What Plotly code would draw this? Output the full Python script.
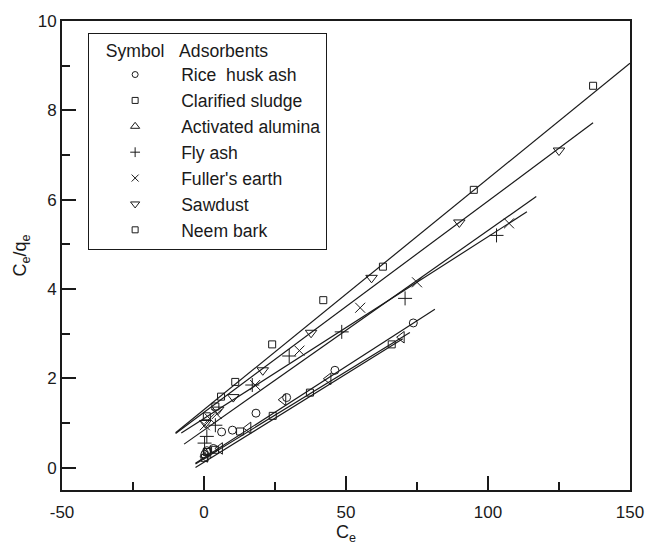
import plotly.graph_objects as go

# ---- data ----
rice_x = [0.3, 1.0, 3.3, 6.2, 10.0, 18.3, 29.1, 46.1, 73.7]
rice_y = [0.30, 0.38, 0.43, 0.80, 0.84, 1.22, 1.57, 2.18, 3.24]

sludge_x = [0.2, 1.0, 3.9, 12.7, 24.2, 37.3, 66.1]
sludge_y = [0.22, 0.35, 0.40, 0.81, 1.16, 1.68, 2.76]

alumina_x = [0.3, 1.5, 5.6, 15.6, 27.9, 43.8, 69.6]
alumina_y = [0.25, 0.35, 0.43, 0.89, 1.52, 1.99, 2.92]

flyash_x = [0.2, 1.0, 4.0, 17.0, 30.0, 48.5, 70.8, 103.0]
flyash_y = [0.55, 0.70, 0.95, 1.85, 2.50, 3.04, 3.79, 5.20]

fuller_x = [0.3, 2.0, 4.5, 18.0, 33.6, 55.0, 75.0, 107.4]
fuller_y = [0.95, 1.10, 1.20, 1.85, 2.62, 3.58, 4.15, 5.47]

sawdust_x = [0.5, 5.0, 10.3, 20.7, 37.7, 59.0, 89.9, 125.0]
sawdust_y = [1.00, 1.30, 1.58, 2.18, 3.02, 4.25, 5.49, 7.10]

neem_x = [1.0, 4.0, 6.0, 11.0, 24.0, 42.0, 63.0, 95.0, 137.0]
neem_y = [1.15, 1.37, 1.59, 1.92, 2.76, 3.75, 4.50, 6.22, 8.55]

names = ["Rice  husk ash", "Clarified sludge", "Activated alumina", "Fly ash",
         "Fuller's earth", "Sawdust", "Neem bark"]
# fitted line parameters (intercept, slope) and drawn x-extent
fit_a = [0.22, 0.12, 0.20, 0.84, 1.10, 1.24, 1.30]
fit_b = [0.0409, 0.0395, 0.0390, 0.0447, 0.0407, 0.0473, 0.0517]
fit_x0 = [-3, -3, -3, -7, -8, -10, -10]
fit_x1 = [81.3, 70, 72.5, 117, 113.7, 137, 150]

x_ticks = [-50, 0, 50, 100, 150]
x_ticktext = ["-50", "0", "50", "100", "150"]
y_ticks = [0, 2, 4, 6, 8, 10]
y_ticktext = ["0", "2", "4", "6", "8", "10"]

xs = [rice_x, sludge_x, alumina_x, flyash_x, fuller_x, sawdust_x, neem_x]
ys = [rice_y, sludge_y, alumina_y, flyash_y, fuller_y, sawdust_y, neem_y]
plot_symbols = ["circle-open", "square-open", "triangle-left-open", "cross-thin-open",
                "x-thin-open", "triangle-down-open", "square-open"]
plot_sizes = [8, 7, 10, 10, 10, 10, 7]
legend_symbols = ["circle-open", "square-open", "triangle-up-open", "cross-thin-open",
                  "x-thin-open", "triangle-down-open", "square-open"]
legend_sizes = [6, 6, 8, 7, 7, 8, 6]

INK = "#1a1a1a"
fig = go.Figure()

for i in range(7):
    x0, x1 = fit_x0[i], fit_x1[i]
    fig.add_trace(go.Scatter(
        x=[x0, x1], y=[fit_a[i] + fit_b[i] * x0, fit_a[i] + fit_b[i] * x1],
        mode="lines", line=dict(color=INK, width=1.2), showlegend=False,
        hoverinfo="skip"))

for i in range(7):
    fig.add_trace(go.Scatter(
        x=xs[i], y=ys[i], mode="markers", name=names[i], showlegend=False,
        marker=dict(symbol=plot_symbols[i], size=plot_sizes[i], color=INK,
                    line=dict(color=INK, width=1))))

for i in range(7):
    fig.add_trace(go.Scatter(
        x=[None], y=[None], mode="markers", name=names[i], showlegend=True,
        marker=dict(symbol=legend_symbols[i], size=legend_sizes[i], color=INK,
                    line=dict(color=INK, width=1))))

FONT = "Liberation Sans, Arial, sans-serif"
NB = "\u00a0"
fig.update_layout(
    width=660, height=549,
    margin=dict(l=62, r=30, t=14, b=57),
    plot_bgcolor="white", paper_bgcolor="white",
    font=dict(family=FONT, size=17, color=INK),
    showlegend=True,
    legend=dict(
        x=0.046, y=0.975, xanchor="left", yanchor="top",
        bgcolor="white", bordercolor=INK, borderwidth=1,
        font=dict(size=17.6, family=FONT, color=INK),
        title=dict(text=NB * 3 + "Symbol" + NB * 3 + "Adsorbents",
                   font=dict(size=17.6, family=FONT, color=INK)),
        itemwidth=82, tracegroupgap=0,
    ),
)
fig.update_xaxes(
    range=[-50, 150], tickmode="array", tickvals=x_ticks, ticktext=x_ticktext,
    showgrid=False, zeroline=False,
    showline=True, linewidth=2, linecolor=INK, mirror=True,
    ticks="inside", ticklen=14, tickwidth=2, tickcolor=INK,
    minor=dict(ticks="inside", tickmode="array", tickvals=[-25, 25, 75, 125],
               ticklen=8, tickwidth=2, tickcolor=INK),
    ticklabelstandoff=6,
    title=dict(text="C<sub>e</sub>", font=dict(size=18), standoff=2),
    tickfont=dict(size=17),
)
fig.update_yaxes(
    range=[-0.5, 10], tickmode="array", tickvals=y_ticks, ticktext=y_ticktext,
    showgrid=False, zeroline=False,
    showline=True, linewidth=2, linecolor=INK, mirror=True,
    ticks="inside", ticklen=14, tickwidth=2, tickcolor=INK,
    minor=dict(ticks="inside", tickmode="array", tickvals=[1, 3, 5, 7, 9],
               ticklen=8, tickwidth=2, tickcolor=INK),
    title=dict(text="C<sub>e</sub>/q<sub>e</sub>", font=dict(size=18), standoff=6),
    tickfont=dict(size=17),
)

fig.write_html("out.html")
